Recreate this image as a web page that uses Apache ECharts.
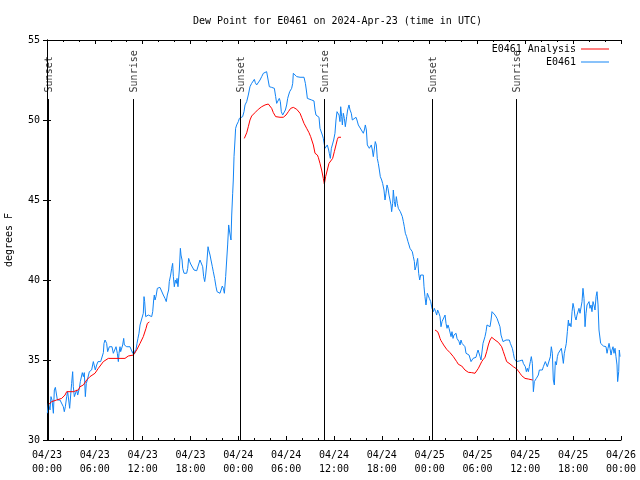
<!DOCTYPE html>
<html><head><meta charset="utf-8">
<script src="https://cdn.jsdelivr.net/npm/echarts@6/dist/echarts.min.js"></script>
<style>html,body{margin:0;padding:0;background:#fff}#c{width:640px;height:480px}</style>
</head><body><div id="c"></div>
<script>
const titleText = 'Dew Point for E0461 on 2024-Apr-23 (time in UTC)';
const yName = 'degrees F';
const xTickLabels = ['04/23\n00:00','04/23\n06:00','04/23\n12:00','04/23\n18:00','04/24\n00:00','04/24\n06:00','04/24\n12:00','04/24\n18:00','04/25\n00:00','04/25\n06:00','04/25\n12:00','04/25\n18:00','04/26\n00:00'];
const eventHours = [0.19, 10.83, 24.25, 34.8, 48.33, 58.88];
const eventNames = ['Sunset','Sunrise','Sunset','Sunrise','Sunset','Sunrise'];
const eventTop = 51.31;
const eventLabelAt = 51.72;

// observed dew point E0461: [hours since 04/23 00:00 UTC, degF]
const obsE0461 = [
[0.04,31.67],[0.17,32.29],[0.38,31.88],[0.5,32.71],[0.63,32.5],[0.8,31.67],[0.92,33.13],[1.05,33.29],[1.21,33.23],[1.3,32.5],[1.42,32.5],[1.63,32.5],[1.84,32.6],[2.05,32.08],[2.17,31.77],[2.3,32.08],[2.47,32.71],[2.59,33.02],[2.72,32.5],[2.84,31.98],[2.97,32.81],[3.09,33.54],[3.22,34.27],[3.3,33.33],[3.43,32.71],[3.55,32.71],[3.72,33.13],[3.85,32.81],[3.93,32.71],[4.06,33.23],[4.18,33.65],[4.31,33.75],[4.43,34.21],[4.56,33.96],[4.68,34.21],[4.81,32.71],[4.93,33.54],[5.06,33.75],[5.18,33.85],[5.31,34.27],[5.48,34.38],[5.6,34.38],[5.81,34.9],[5.94,34.79],[6.06,34.38],[6.23,34.69],[6.4,34.9],[6.56,34.9],[6.73,34.9],[6.9,34.79],[7.07,35.46],[7.15,36.04],[7.28,36.25],[7.4,36.35],[7.48,36.04],[7.61,35.52],[7.74,35.42],[7.82,35.83],[7.99,35.83],[8.15,35.83],[8.32,35.42],[8.49,35.31],[8.66,35.83],[8.82,35.42],[8.95,34.9],[9.03,35.42],[9.16,35.83],[9.24,35.52],[9.37,35.42],[9.49,35.94],[9.62,36.35],[9.7,35.94],[9.83,35.83],[10.0,35.83],[10.2,35.83],[10.41,35.83],[10.66,35.83],[10.75,35.42],[10.87,35.63],[11.0,35.42],[11.16,35.63],[11.29,36.04],[11.41,36.35],[11.54,36.67],[11.67,37.19],
[11.75,37.08],[11.87,37.29],[12.08,37.92],[12.17,38.96],[12.25,38.65],[12.38,37.71],[12.5,37.81],[12.71,37.81],[13.13,37.71],[13.26,38.02],[13.38,38.75],[13.46,39.06],[13.55,38.75],[13.67,38.96],[13.84,39.48],[13.96,39.58],[14.17,39.54],[14.38,39.48],[14.59,39.06],[14.8,38.85],[14.96,38.65],[15.09,39.06],[15.26,39.375],[15.34,39.9],[15.51,40.31],[15.64,40.73],[15.76,41.04],[15.85,40.21],[15.97,39.58],[16.1,40.0],[16.22,39.79],[16.31,40.1],[16.43,39.58],[16.6,40.625],[16.73,41.98],[16.81,41.56],[16.94,41.25],[17.02,40.73],[17.19,40.42],[17.52,40.42],[17.65,40.73],[17.77,41.35],[17.9,41.15],[18.02,41.0],[18.27,40.94],[18.44,40.625],[18.78,40.58],[19.03,40.625],[19.19,41.25],[19.4,41.25],[19.53,40.83],[19.65,40.21],[19.78,39.9],[19.9,40.31],[20.03,40.94],[20.2,42.08],[20.28,41.875],[20.45,41.56],[20.57,41.25],[20.74,40.83],[20.86,40.52],[21.03,40.1],[21.2,39.58],[21.33,39.27],[21.45,39.17],[21.7,39.17],[21.83,39.375],[21.99,39.625],[22.12,39.48],[22.25,39.17],[22.41,40.21],[22.54,41.25],[22.66,42.19],[22.79,43.44],[22.87,43.125],[23.0,43.23],[23.08,42.5],[23.17,44.06],[23.29,45.42],[23.37,46.25],
[23.46,47.71],[23.58,48.75],[23.66,49.48],[23.79,49.69],[24.0,49.9],[24.13,50.1],[24.29,50.17],[24.54,50.21],[24.71,50.52],[24.84,50.94],[25.05,51.15],[25.25,51.56],[25.46,52.08],[25.67,52.29],[25.88,52.4],[26.01,52.54],[26.13,52.33],[26.3,52.19],[26.51,52.29],[26.72,52.5],[26.93,52.71],[27.14,52.92],[27.3,53.02],[27.55,53.02],[27.76,52.92],[27.89,52.08],[28.18,52.04],[28.52,51.98],[28.68,51.46],[28.81,51.04],[29.02,51.08],[29.14,51.35],[29.27,51.15],[29.39,50.52],[29.56,50.31],[29.73,50.42],[29.9,50.625],[30.06,50.94],[30.19,51.35],[30.31,51.56],[30.44,51.77],[30.57,51.67],[30.69,51.98],[30.82,52.29],[30.9,52.92],[31.11,52.81],[31.32,52.71],[31.53,52.65],[31.74,52.67],[31.94,52.71],[32.24,52.67],[32.41,52.29],[32.53,51.875],[32.66,51.35],[32.82,51.29],[33.2,51.25],[33.49,51.19],[33.62,50.625],[33.74,50.31],[33.95,50.25],[34.12,50.17],[34.24,49.48],[34.37,49.42],[34.54,49.06],[34.66,48.85],[34.79,48.75],[34.87,48.23],[35.0,48.33],[35.16,48.44],[35.33,48.125],[35.41,47.92],[35.54,47.6],[35.67,48.23],[35.79,48.44],[35.96,48.75],[36.12,49.17],[36.25,50.0],[36.38,50.52],[36.5,50.625],[36.63,50.31],[36.75,49.9],[36.84,50.83],[36.96,50.21],[37.05,49.69],[37.17,50.42],[37.3,50.1],[37.42,49.58],[37.59,50.21],[37.71,50.625],[37.88,50.94],[38.01,50.625],[38.17,50.42],[38.3,50.0],[38.42,50.1],[38.55,50.0],[38.76,50.17],[38.88,50.0],[39.05,49.69],[39.18,49.58],[39.3,49.79],[39.43,49.375],[39.55,49.27],[39.68,49.17],[39.81,49.375],[39.93,49.69],[40.06,49.375],[40.18,48.44],[40.31,48.54],[40.43,48.23],[40.56,48.33],[40.68,48.44],[40.81,48.125],[40.93,47.71],[41.06,47.81],[41.18,48.65],[41.31,48.44],[41.43,47.6],[41.56,47.29],[41.69,46.875],[41.81,46.46],[41.98,46.25],
[42.1,46.04],[42.27,45.625],[42.4,45.0],[42.52,45.42],[42.65,45.94],[42.77,45.73],[42.9,45.31],[43.02,45.21],[43.15,44.69],[43.23,44.27],[43.36,44.79],[43.44,45.625],[43.57,44.9],[43.69,44.58],[43.82,45.21],[43.94,44.79],[44.07,44.48],[44.19,44.375],[44.32,44.27],[44.45,44.17],[44.57,43.96],[44.7,43.65],[44.82,43.33],[44.95,42.92],[45.11,42.71],[45.28,42.4],[45.41,42.19],[45.53,41.98],[45.66,41.875],[45.82,41.77],[45.95,41.46],[46.08,41.15],[46.16,40.625],[46.29,40.83],[46.41,41.15],[46.49,41.35],[46.62,40.42],[46.75,40.0],[46.87,40.31],[47.0,40.375],[47.2,40.31],[47.29,39.58],[47.41,38.96],[47.54,38.44],[47.71,39.17],[47.83,39.27],[47.96,38.85],[48.13,38.65],[48.29,38.23],[48.46,38.02],[48.58,38.23],[48.75,38.02],[48.88,37.81],[49.0,38.125],[49.17,37.92],[49.3,37.71],
[49.42,37.08],[49.55,37.4],[49.67,37.29],[49.8,37.5],[49.93,37.81],[50.05,37.29],[50.18,36.98],[50.3,37.19],[50.43,36.98],[50.55,36.875],[50.68,36.46],[50.8,36.77],[50.93,36.35],[51.05,36.56],[51.18,36.46],[51.31,36.67],[51.43,36.35],[51.56,36.25],[51.68,36.15],[51.81,35.94],[51.93,36.25],[52.06,36.04],[52.18,36.15],[52.31,36.04],[52.43,35.83],[52.56,35.42],[52.69,35.31],[52.81,35.52],[52.94,35.31],[53.06,35.21],[53.19,34.9],[53.31,35.0],[53.44,35.1],[53.69,35.1],[53.81,35.17],[53.94,35.42],[54.07,35.625],[54.19,35.52],[54.32,35.21],[54.44,35.0],[54.57,34.9],[54.69,36.04],[54.82,36.15],[54.94,36.46],[55.07,36.77],[55.19,37.19],[55.32,37.29],[55.44,37.29],[55.57,37.08],[55.7,37.5],[55.82,38.02],[55.95,38.125],[56.07,37.92],[56.2,37.81],[56.32,37.71],[56.45,37.6],[56.57,37.6],[56.7,37.5],[56.82,37.08],[56.95,36.56],[57.08,36.35],[57.2,36.15],[57.33,36.25],[57.58,36.25],[57.83,36.29],[57.99,36.25],[58.12,36.04],[58.25,35.94],[58.37,35.73],[58.5,35.42],[58.62,35.1],[58.75,35.0],[58.87,34.9],[59.0,34.96],[59.25,34.94],[59.5,34.94],[59.63,35.0],[59.75,34.79],[59.88,34.79],[60.0,34.58],[60.13,34.27],[60.25,34.48],[60.38,34.27],[60.5,34.58],[60.63,34.9],[60.75,35.21],[60.88,34.79],[61.01,33.02],[61.13,33.65],[61.26,33.75],[61.38,33.85],[61.51,33.85],[61.63,34.06],[61.76,34.375],[61.88,34.27],[62.01,34.48],[62.13,34.375],[62.26,34.58],[62.39,34.69],[62.51,34.9],[62.64,34.79],[62.76,34.58],[62.89,34.48],[63.01,34.69],[63.14,35.21],[63.26,35.83],[63.39,35.42],[63.51,33.75],[63.64,33.44],[63.76,34.9],[63.89,34.69],[64.02,35.21],[64.14,35.42],[64.27,35.31],[64.39,35.52],[64.52,35.73],[64.64,35.625],[64.77,34.79],[64.89,35.42],[65.02,35.73],[65.14,36.04],[65.27,36.77],
[65.4,37.5],[65.48,37.125],[65.6,37.29],[65.73,37.08],[65.86,38.02],[65.98,38.54],[66.11,38.23],[66.23,37.71],[66.36,37.5],[66.48,37.81],[66.61,37.92],[66.73,38.23],[66.86,37.92],[66.98,38.02],[67.11,38.65],[67.23,39.48],[67.36,38.85],[67.49,37.08],[67.61,37.92],[67.74,38.44],[67.86,38.54],[67.99,38.65],[68.11,38.23],[68.24,38.44],[68.36,38.02],[68.49,38.65],[68.61,38.44],[68.74,38.125],[68.87,38.96],[68.99,39.27],[69.12,38.44],[69.24,36.875],
[69.33,36.875],[69.45,36.04],[69.58,35.94],[69.79,35.875],[69.99,35.94],[70.12,35.83],[70.25,35.42],[70.37,35.73],[70.5,36.04],[70.62,35.73],[70.75,35.31],[70.87,35.625],[71.0,35.83],[71.12,35.42],[71.25,35.73],[71.37,35.21],[71.5,34.69],[71.58,33.65],[71.71,34.27],[71.79,35.625],[71.88,35.21]
];

// analysis dew point E0461 Analysis: [hours, degF], null = gap
const anaE0461 = [
[0.17,32.2],[0.59,32.4],[1.21,32.5],[1.84,32.6],[2.26,32.81],[2.47,33.02],[3.3,33.02],[3.93,33.13],[4.14,33.33],[4.56,33.44],[4.98,33.75],[5.39,33.96],[6.02,34.17],[6.44,34.48],[7.07,34.9],[7.69,35.1],[9.16,35.1],[9.78,35.1],[10.2,35.25],[10.83,35.31],[11.25,35.63],[11.67,36.04],[12.08,36.46],[12.42,36.98],[12.59,37.29],[12.84,37.375],
[18,null],
[24.75,48.85],[24.88,48.96],[25.05,49.2],[25.25,49.58],[25.46,50.0],[25.67,50.25],[26.09,50.46],[26.51,50.67],[26.93,50.83],[27.35,50.94],[27.76,51.0],[27.97,50.94],[28.18,50.73],[28.39,50.46],[28.68,50.21],[29.23,50.17],[29.64,50.17],[29.98,50.31],[30.27,50.52],[30.57,50.73],[30.9,50.79],[31.32,50.67],[31.74,50.42],[31.94,50.17],[32.24,49.79],[32.57,49.48],[32.86,49.21],[33.07,48.96],[33.41,48.44],[33.62,47.92],[33.91,47.81],[34.03,47.67],[34.24,47.29],[34.45,46.875],[34.66,46.35],[34.79,46.0],[34.95,46.46],[35.16,46.875],[35.37,47.29],[35.58,47.4],[35.83,47.6],[36.04,48.02],[36.25,48.44],[36.42,48.79],[36.54,48.92],[36.88,48.92],
[42,null],
[48.67,36.875],[48.88,36.875],[49.0,36.77],[49.17,36.56],[49.3,36.35],[49.42,36.21],[49.59,36.08],[49.75,35.94],[49.92,35.83],[50.13,35.67],[50.34,35.56],[50.55,35.46],[50.76,35.375],[50.97,35.21],[51.18,35.1],[51.39,34.9],[51.6,34.73],[51.81,34.65],[52.02,34.625],[52.23,34.52],[52.43,34.375],[52.64,34.27],[52.85,34.23],[53.27,34.21],[53.69,34.17],[53.9,34.27],[54.11,34.48],[54.32,34.69],[54.53,34.9],[54.73,35.04],[54.94,35.17],[55.15,35.52],[55.36,35.94],[55.57,36.25],[55.78,36.42],[55.99,36.35],[56.2,36.25],[56.41,36.19],[56.62,36.1],[56.83,36.08],[57.03,35.83],[57.24,35.52],[57.45,35.21],[57.66,34.9],[57.87,34.83],[58.08,34.75],[58.29,34.69],[58.5,34.58],[58.71,34.48],[58.92,34.44],[59.12,34.31],[59.33,34.17],[59.54,34.02],[59.75,33.9],[59.96,33.85],[60.17,33.85],[60.38,33.81],[60.59,33.75],[60.92,33.75]
];

const FONT = 'DejaVu Sans Mono';
const BLUE = '#1284f5';
const RED = '#ff0000';

const chart = echarts.init(document.getElementById('c'), null, {renderer: 'canvas'});

const axisCommonX = {
  type: 'value', min: 0, max: 72, interval: 6,
  axisLine: {show: true, lineStyle: {color: '#000', width: 1}},
  axisTick: {show: true, inside: true, length: 4, lineStyle: {color: '#000'}},
  minorTick: {show: true, splitNumber: 3, length: 2, lineStyle: {color: '#000'}},
  splitLine: {show: false}
};
const axisCommonY = {
  type: 'value', min: 30, max: 55, interval: 5,
  axisLine: {show: true, lineStyle: {color: '#000', width: 1}},
  axisTick: {show: true, inside: true, length: 4, lineStyle: {color: '#000'}},
  splitLine: {show: false}
};

const eventLines = eventHours.map(h => [{coord: [h, 30]}, {coord: [h, eventTop]}]);
const eventLabelData = eventHours.map((h, i) => ({value: [h, eventLabelAt], name: eventNames[i]}));

chart.setOption({
  animation: false,
  backgroundColor: '#fff',
  title: {
    text: titleText, left: 188, top: 11,
    textStyle: {fontFamily: FONT, fontSize: 10, fontWeight: 'normal', color: '#000'}
  },
  legend: [
    {data: ['E0461 Analysis'], right: 31, top: 44, orient: 'vertical', align: 'right',
     icon: 'rect', itemWidth: 28, itemHeight: 1, itemGap: 0, padding: 0,
     textStyle: {fontFamily: FONT, fontSize: 10, color: '#000'}},
    {data: ['E0461'], right: 31, top: 57, orient: 'vertical', align: 'right',
     icon: 'rect', itemWidth: 28, itemHeight: 1, itemGap: 0, padding: 0,
     textStyle: {fontFamily: FONT, fontSize: 10, color: '#000'}}
  ],
  grid: {left: 47, right: 19, top: 40, bottom: 40, containLabel: false, outerBoundsMode: 'none'},
  xAxis: [
    Object.assign({}, axisCommonX, {
      position: 'bottom',
      axisLabel: {show: true, margin: 8, fontFamily: FONT, fontSize: 10, color: '#000', lineHeight: 14,
        formatter: v => xTickLabels[Math.round(v / 6)]}
    }),
    Object.assign({}, axisCommonX, {position: 'top', axisLabel: {show: false}})
  ],
  yAxis: [
    Object.assign({}, axisCommonY, {
      position: 'left', name: yName, nameLocation: 'middle', nameGap: 33, nameRotate: 90,
      nameTextStyle: {fontFamily: FONT, fontSize: 10, color: '#000'},
      axisLabel: {show: true, margin: 7, fontFamily: FONT, fontSize: 10, color: '#000'}
    }),
    Object.assign({}, axisCommonY, {position: 'right', axisLabel: {show: false}})
  ],
  series: [
    {
      name: 'E0461 Analysis', type: 'line', data: anaE0461, showSymbol: false, symbol: 'none',
      connectNulls: false, lineStyle: {color: RED, width: 1}, itemStyle: {color: RED}, z: 3
    },
    {
      name: 'E0461', type: 'line', data: obsE0461, showSymbol: false, symbol: 'none',
      lineStyle: {color: BLUE, width: 1}, itemStyle: {color: BLUE}, z: 2
    },
    {
      name: 'events', type: 'scatter', data: eventLabelData, symbolSize: 0.1, silent: true, z: 4,
      label: {show: true, position: [1, 0], rotate: 90, align: 'left', verticalAlign: 'middle',
        formatter: p => p.name, fontFamily: FONT, fontSize: 10, color: '#000'},
      markLine: {silent: true, symbol: 'none', animation: false,
        lineStyle: {color: '#000', width: 1, type: 'solid'}, label: {show: false},
        data: eventLines}
    }
  ]
});
</script></body></html>
